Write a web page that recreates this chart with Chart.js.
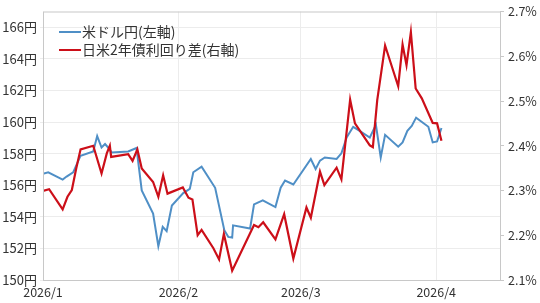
<!DOCTYPE html>
<html>
<head>
<meta charset="utf-8">
<script src="https://cdn.jsdelivr.net/npm/chart.js@4/dist/chart.umd.min.js"></script>
<style>
	html, body { margin: 0; padding: 0; background: #fff; }
	#wrap { width: 540px; height: 303px; }
</style>
</head>
<body>
<div id="wrap"><canvas id="mainChart"></canvas></div>
<script>
// days counted from 2026/1/1
const usdDays = [0, 1.2, 4.5, 5.4, 6.9, 8.6, 11.5, 12.4, 13.4, 14.2, 14.9, 15.7, 19.5, 21.4, 22.6, 25.2, 26.4, 27.4, 28.3, 29.5,
	32.1, 33.6, 34.4, 36.3, 39.4, 41.5, 42.4, 43.3, 43.5, 47.4, 48.3, 50.3, 53.2, 54.4, 55.4, 57.3, 61.3, 62.4, 63.4, 64.5,
	67.2, 68.3, 69.5, 71.0, 72.2, 74.8, 76.2, 77.3, 78.3, 81.3, 82.3, 83.4, 84.4, 85.4, 88.2, 89.2, 90.2, 91.2];
const usdJpy = [156.72, 156.82, 156.36, 156.55, 156.82, 157.87, 158.14, 159.11, 158.39, 158.61, 158.39, 158.08, 158.14, 158.36, 155.67, 154.2, 152.14, 153.36, 153.09, 154.72,
	155.5, 155.77, 156.82, 157.18, 155.84, 153.15, 152.73, 152.69, 153.46, 153.26, 154.79, 155.04, 154.62, 155.84, 156.3, 156.05, 157.66, 157.03, 157.56, 157.76,
	157.66, 158.02, 159.02, 159.7, 159.49, 159.02, 159.82, 157.76, 159.19, 158.44, 158.71, 159.45, 159.76, 160.28, 159.7, 158.71, 158.77, 159.62];

const spreadDays = [0, 1.4, 4.5, 5.6, 6.6, 7.6, 8.6, 11.5, 13.4, 14.6, 15.3, 15.6, 19.5, 20.5, 21.6, 22.6, 25.2, 26.4, 27.5, 28.5,
	32.0, 33.3, 34.2, 35.4, 36.3, 39.0, 40.3, 41.4, 43.3, 48.3, 49.3, 50.4, 53.2, 55.2, 57.3, 60.3, 61.3, 63.4, 64.4,
	67.2, 68.3, 70.3, 71.4, 74.8, 75.5, 76.5, 78.3, 81.3, 82.3, 83.2, 84.2, 85.3, 86.7, 89.2, 90.2, 91.2];
const spread = [2.299, 2.303, 2.258, 2.286, 2.301, 2.349, 2.392, 2.400, 2.338, 2.383, 2.400, 2.375, 2.381, 2.366, 2.392, 2.349, 2.319, 2.286, 2.334, 2.293,
	2.307, 2.284, 2.280, 2.200, 2.212, 2.171, 2.146, 2.203, 2.121, 2.223, 2.218, 2.229, 2.191, 2.247, 2.148, 2.262, 2.239, 2.342, 2.312,
	2.351, 2.325, 2.503, 2.450, 2.401, 2.397, 2.502, 2.624, 2.533, 2.626, 2.580, 2.654, 2.528, 2.506, 2.451, 2.450, 2.411];

const monthTicks = [0, 31, 59, 90];
const monthLabels = ['2026/1', '2026/2', '2026/3', '2026/4'];
const yenTicks = [150, 152, 154, 156, 158, 160, 162, 164, 166];
const pctTicks = [2.1, 2.2, 2.3, 2.4, 2.5, 2.6, 2.7];

const fontName = '"Noto Sans CJK JP", "Noto Sans", sans-serif';
const textColor = '#333333';

function toPoints(xs, ys) {
	return xs.map((x, i) => ({ x: x, y: ys[i] }));
}

/* frame round the plot area + legend inside it */
const framePlugin = {
	id: 'frame',
	afterDraw(chart) {
		const c = chart.ctx;
		const a = chart.chartArea;
		c.save();
		c.strokeStyle = '#c8c8c8';
		c.lineWidth = 1;
		c.strokeRect(a.left + 0.5, a.top + 0.5, a.right - a.left, a.bottom - a.top);

		// legend
		c.font = '14px ' + fontName;
		c.textBaseline = 'middle';
		chart.data.datasets.forEach((ds, i) => {
			const y = 32 + i * 18;
			c.strokeStyle = ds.borderColor;
			c.lineWidth = 2;
			c.beginPath();
			c.moveTo(59, y);
			c.lineTo(81, y);
			c.stroke();
			c.fillStyle = textColor;
			c.fillText(ds.label, 82, y);
		});
		c.restore();
	}
};

const mainChart = new Chart(document.getElementById('mainChart'), {
	type: 'line',
	data: {
		datasets: [
			{
				label: '米ドル円(左軸)',
				data: toPoints(usdDays, usdJpy),
				borderColor: '#4f8fc6',
				borderWidth: 2,
				pointRadius: 0,
				tension: 0,
				yAxisID: 'yLeft',
				order: 1
			},
			{
				label: '日米2年債利回り差(右軸)',
				data: toPoints(spreadDays, spread),
				borderColor: '#cc0f19',
				borderWidth: 2.2,
				pointRadius: 0,
				tension: 0,
				yAxisID: 'yRight',
				order: 0
			}
		]
	},
	options: {
		animation: false,
		responsive: true,
		maintainAspectRatio: false,
		layout: { padding: { top: 10, left: 0, right: 0, bottom: 0 } },
		plugins: {
			legend: { display: false },
			tooltip: { enabled: false }
		},
		scales: {
			x: {
				type: 'linear',
				min: 0,
				max: 104.6,
				afterBuildTicks(axis) {
					axis.ticks = monthTicks.map(v => ({ value: v }));
				},
				afterFit(axis) { axis.height = 23; },
				ticks: {
					autoSkip: false,
					maxRotation: 0,
					padding: 5,
					color: textColor,
					font: { family: fontName, size: 12.5 },
					callback: (v) => monthLabels[monthTicks.indexOf(v)]
				},
				grid: { color: '#ececec', drawTicks: false },
				border: { display: false }
			},
			yLeft: {
				position: 'left',
				min: 150,
				max: 167,
				afterBuildTicks(axis) {
					axis.ticks = yenTicks.map(v => ({ value: v }));
				},
				afterFit(axis) { axis.width = 43; },
				ticks: {
					padding: 3,
					color: textColor,
					font: { family: fontName, size: 13 },
					callback: (v) => v + '円'
				},
				grid: { color: '#ececec', tickLength: 3 },
				border: { display: false }
			},
			yRight: {
				position: 'right',
				min: 2.1,
				max: 2.7,
				afterBuildTicks(axis) {
					axis.ticks = pctTicks.map(v => ({ value: v }));
				},
				afterFit(axis) { axis.width = 40; },
				ticks: {
					padding: 4,
					color: textColor,
					font: { family: fontName, size: 12.5 },
					callback: (v) => v.toFixed(1) + '%'
				},
				grid: { drawOnChartArea: false, color: '#c8c8c8', tickLength: 4 },
				border: { display: false }
			}
		}
	},
	plugins: [framePlugin]
});
</script>
</body>
</html>
